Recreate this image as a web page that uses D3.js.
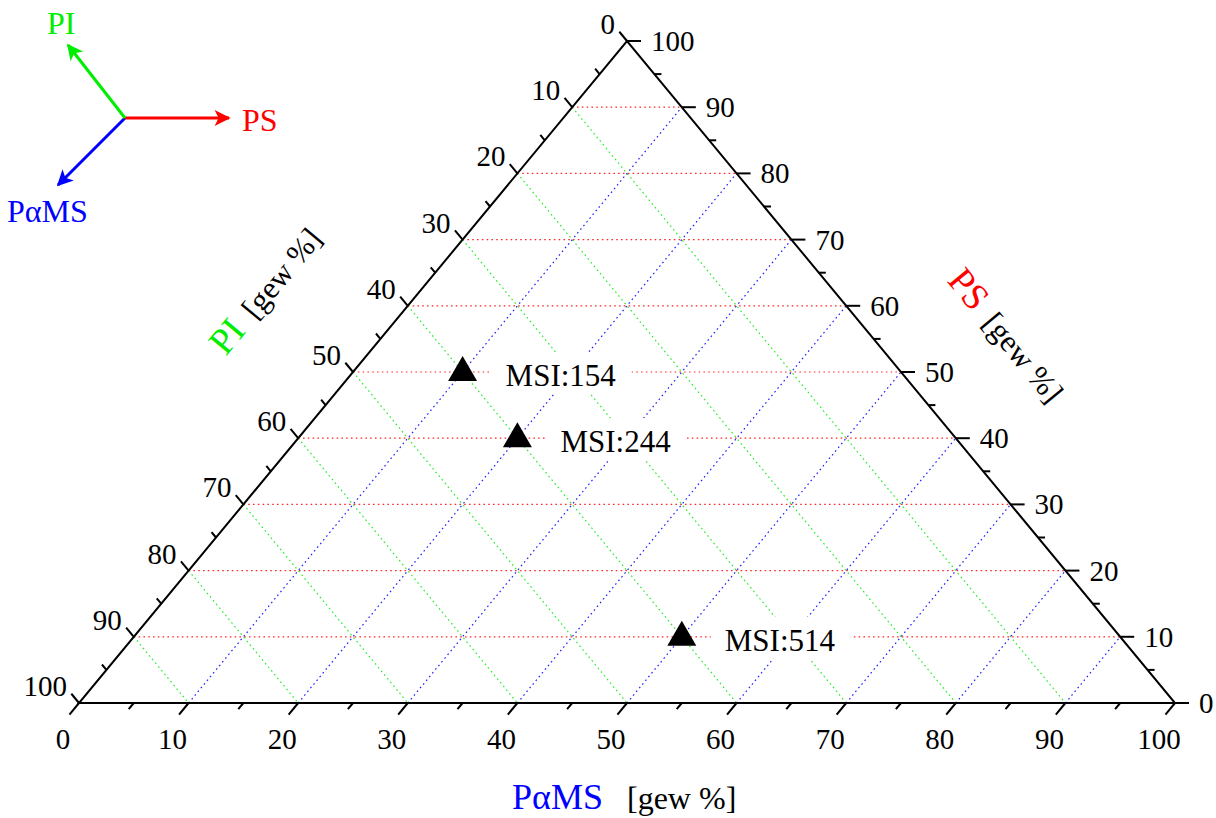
<!DOCTYPE html>
<html>
<head>
<meta charset="utf-8">
<script src="https://cdn.jsdelivr.net/npm/d3@7"></script>
<style>
  html, body { margin: 0; padding: 0; background: #fff; }
  svg { display: block; font-family: "Liberation Serif", "Times New Roman", serif; }
  svg text { font-family: "Liberation Serif", "Times New Roman", serif; }
</style>
</head>
<body>
<svg id="chart" width="1216" height="818"></svg>
<script>
// ---- data ----
const axisNames = ["PαMS", "PS", "PI"];          // bottom, right, left
const axisColors = ["#0000ff", "#ff0000", "#00ee00"];
const axisUnit = "[gew %]";
const sampleNames = ["MSI:154", "MSI:244", "MSI:514"];
const pamsValues = [10, 20, 50];
const psValues = [50, 40, 10];
const piValues = [40, 40, 40];
const majorTicks = [0, 10, 20, 30, 40, 50, 60, 70, 80, 90, 100];
const minorTicks = [5, 15, 25, 35, 45, 55, 65, 75, 85, 95];
const gridValues = [10, 20, 30, 40, 50, 60, 70, 80, 90];

// ---- scales ----
const svg = d3.select("#chart");
const x = d3.scaleLinear().domain([0, 100]).range([79, 1175]);
const y = d3.scaleLinear().domain([0, 100]).range([703, 41]);
// a = PαMS, s = PS (PI = 100 - a - s)
const pt = (a, s) => [x(a + s / 2), y(s)];

const Apex = pt(0, 100), BL = pt(0, 0), BR = pt(100, 0);
function unit(v) { const l = Math.hypot(v[0], v[1]); return [v[0] / l, v[1] / l]; }
const dirBottom = unit([BL[0] - Apex[0], BL[1] - Apex[1]]);
const dirLeft = unit([Apex[0] - BR[0], Apex[1] - BR[1]]);
const dirRight = [1, 0];

// ---- grid ----
const grid = svg.append("g").attr("fill", "none").attr("stroke-width", 1.2)
  .attr("stroke-dasharray", "1.6,3.2");
const line = d3.line();
grid.selectAll(".gs").data(gridValues).join("path")
  .attr("stroke", "#ff2a2a")
  .attr("d", s => line([pt(0, s), pt(100 - s, s)]));
grid.selectAll(".gi").data(gridValues).join("path")
  .attr("stroke", "#22ee22")
  .attr("d", p => line([pt(0, 100 - p), pt(100 - p, 0)]));
grid.selectAll(".ga").data(gridValues).join("path")
  .attr("stroke", "#2020ff")
  .attr("d", a => line([pt(a, 0), pt(a, 100 - a)]));

// ---- label boxes hiding grid ----
const samples = sampleNames.map((n, i) => ({ name: n, a: pamsValues[i], s: psValues[i], p: piValues[i] }));
svg.append("g").selectAll("rect").data(samples).join("rect")
  .attr("x", d => pt(d.a, d.s)[0] + 29)
  .attr("y", d => pt(d.a, d.s)[1] - 20)
  .attr("width", 140).attr("height", 42)
  .attr("fill", "#fff");

// ---- triangle frame ----
svg.append("path")
  .attr("d", line([BL, BR, Apex]) + "Z")
  .attr("fill", "none").attr("stroke", "#000").attr("stroke-width", 2);

// ---- ticks ----
const tickG = svg.append("g").attr("stroke", "#000").attr("stroke-width", 2);
function drawTicks(vals, posFn, dir, len) {
  tickG.append("g").selectAll("line").data(vals).join("line")
    .attr("x1", v => posFn(v)[0]).attr("y1", v => posFn(v)[1])
    .attr("x2", v => posFn(v)[0] + dir[0] * len)
    .attr("y2", v => posFn(v)[1] + dir[1] * len);
}
const posBottom = v => pt(v, 0);
const posLeft = v => pt(0, 100 - v);
const posRight = v => pt(100 - v, v);
drawTicks(majorTicks, posBottom, dirBottom, 15);
drawTicks(minorTicks, posBottom, dirBottom, 8);
drawTicks(majorTicks, posLeft, dirLeft, 12);
drawTicks(minorTicks, posLeft, dirLeft, 7);
drawTicks(majorTicks, posRight, dirRight, 14);
drawTicks(minorTicks, posRight, dirRight, 7);

// ---- tick labels ----
const tl = svg.append("g").attr("font-size", 29).attr("fill", "#000");
tl.append("g").selectAll("text").data(majorTicks).join("text")
  .attr("text-anchor", "middle")
  .attr("x", v => posBottom(v)[0] - 16).attr("y", v => posBottom(v)[1] + 46)
  .text(v => v);
tl.append("g").selectAll("text").data(majorTicks).join("text")
  .attr("text-anchor", "start")
  .attr("x", v => posRight(v)[0] + 24).attr("y", v => posRight(v)[1] + 10)
  .text(v => v);
tl.append("g").selectAll("text").data(majorTicks).join("text")
  .attr("text-anchor", "end")
  .attr("x", v => posLeft(v)[0] - 12).attr("y", v => posLeft(v)[1] - 7)
  .text(v => v);

// ---- axis titles ----
const angle = Math.atan2(Apex[1] - BL[1], Apex[0] - BL[0]) * 180 / Math.PI; // ~ -50.4
svg.append("text").attr("x", 512).attr("y", 809).attr("font-size", 36)
  .attr("fill", axisColors[0]).text(axisNames[0]);
svg.append("text").attr("x", 627).attr("y", 809).attr("font-size", 32)
  .attr("fill", "#000").text(axisUnit);
const lt = svg.append("text").attr("text-anchor", "middle")
  .attr("transform", `translate(266,291) rotate(${angle})`).attr("y", 11);
lt.append("tspan").attr("font-size", 37).attr("fill", axisColors[2]).text(axisNames[2]);
lt.append("tspan").attr("dx", 14).attr("font-size", 31).attr("fill", "#000").text(axisUnit);
const rt = svg.append("text").attr("text-anchor", "middle")
  .attr("transform", `translate(1006,336) rotate(${-angle})`).attr("y", 11);
rt.append("tspan").attr("font-size", 37).attr("fill", axisColors[1]).text(axisNames[1]);
rt.append("tspan").attr("dx", 14).attr("font-size", 31).attr("fill", "#000").text(axisUnit);

// ---- data markers & labels ----
const mk = svg.append("g");
mk.selectAll("path").data(samples).join("path")
  .attr("d", d => {
    const [cx, cy] = pt(d.a, d.s);
    return `M${cx},${cy - 16}L${cx + 14.5},${cy + 9}L${cx - 14.5},${cy + 9}Z`;
  })
  .attr("fill", "#000");
mk.selectAll("text").data(samples).join("text")
  .attr("x", d => pt(d.a, d.s)[0] + 43)
  .attr("y", d => pt(d.a, d.s)[1] + 14)
  .attr("font-size", 31).attr("fill", "#000")
  .text(d => d.name);

// ---- orientation legend ----
const defs = svg.append("defs");
axisColors.forEach((c, i) => {
  defs.append("marker").attr("id", "arr" + i)
    .attr("viewBox", "0 0 10 10").attr("refX", 9).attr("refY", 5)
    .attr("markerUnits", "userSpaceOnUse")
    .attr("markerWidth", 24).attr("markerHeight", 16).attr("orient", "auto")
    .append("path").attr("d", "M0,0L10,5L0,10L2.5,5Z").attr("fill", c);
});
const origin = [125, 118];
const legendArrows = [
  { end: [58, 185], color: 0, label: axisNames[0], lx: 7, ly: 222 },
  { end: [229, 118], color: 1, label: axisNames[1], lx: 242, ly: 131 },
  { end: [68, 45], color: 2, label: axisNames[2], lx: 47, ly: 34 }
];
const lg = svg.append("g");
lg.selectAll("line").data(legendArrows).join("line")
  .attr("x1", origin[0]).attr("y1", origin[1])
  .attr("x2", d => d.end[0]).attr("y2", d => d.end[1])
  .attr("stroke", d => axisColors[d.color]).attr("stroke-width", 3)
  .attr("marker-end", d => `url(#arr${d.color})`);
lg.selectAll("text").data(legendArrows).join("text")
  .attr("x", d => d.lx).attr("y", d => d.ly)
  .attr("font-size", 32).attr("fill", d => axisColors[d.color])
  .text(d => d.label);
</script>
</body>
</html>
